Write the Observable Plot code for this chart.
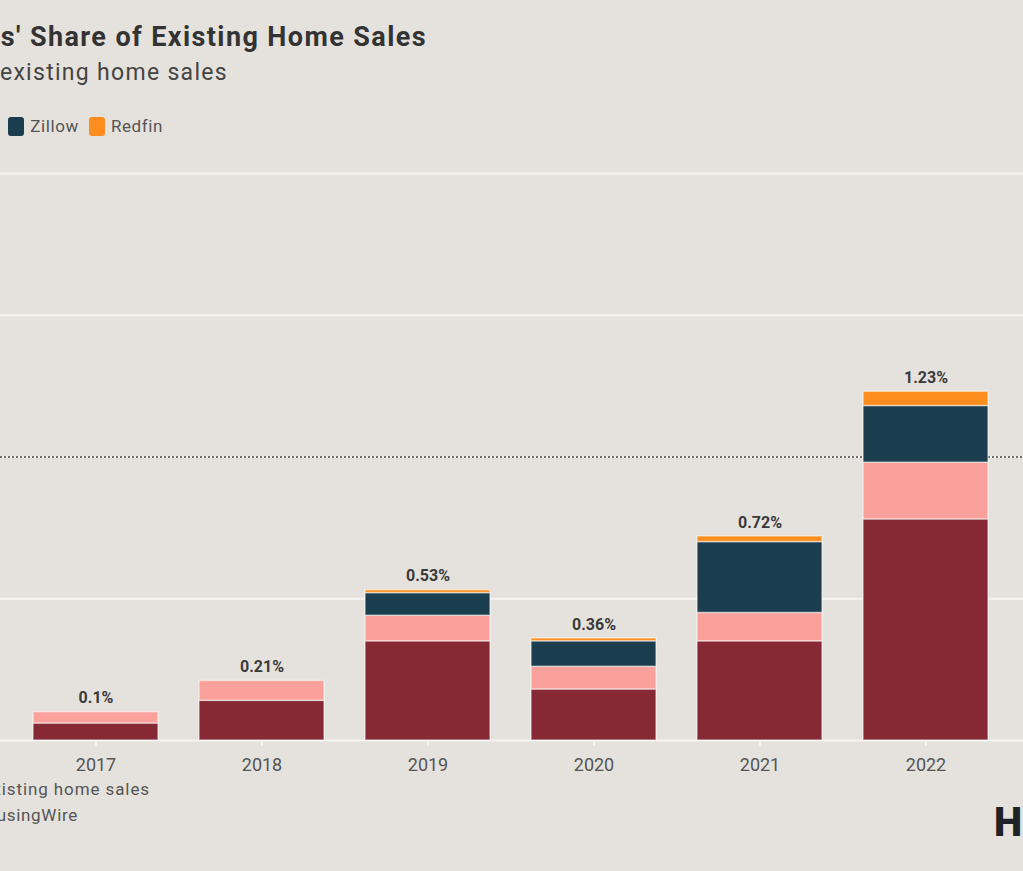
<!DOCTYPE html>
<html><head><meta charset="utf-8">
<script src="https://cdn.jsdelivr.net/npm/d3@7"></script>
<script src="https://cdn.jsdelivr.net/npm/@observablehq/plot@0.6"></script>
<style>
html,body{margin:0;padding:0;width:1023px;height:871px;overflow:hidden;background:#e5e2dd;font-family:Roboto,"Noto Sans",sans-serif;}
.abs{position:absolute;white-space:nowrap;}
.legend{display:flex;align-items:center;font-size:17px;color:#555;letter-spacing:0.6px;}
.legend .item{display:flex;align-items:center;margin-left:10px;}
.legend .sw{width:16px;height:19px;border-radius:3px;margin-right:6px;}
</style></head><body>
<div id="title" class="abs" style="right:596px;top:20px;font-size:27px;font-weight:700;color:#333;line-height:34px;letter-spacing:1.4px">iBuyers' Share of Existing Home Sales</div>
<div id="subtitle" class="abs" style="right:795px;top:58px;font-size:23px;color:#444;line-height:30px;letter-spacing:1.3px">Share of existing home sales</div>
<div id="legend" class="abs legend" style="right:860px;top:116px;"></div>
<div id="chart" class="abs" style="left:0;top:150px;"></div>
<div class="abs" style="right:873px;top:778px;font-size:17px;color:#555;line-height:22px;letter-spacing:0.9px">Source: iBuyer filings, NAR existing home sales</div>
<div class="abs" style="right:945px;top:804px;font-size:17px;color:#555;line-height:22px;letter-spacing:0.7px">Chart: HousingWire</div>
<div class="abs" style="left:994px;top:798px;font-size:40px;font-weight:900;color:#1d2327;line-height:50px;letter-spacing:1px">HW</div>
<script>
const years = ["2017", "2018", "2019", "2020", "2021", "2022"];
const companies = ["Opendoor", "Offerpad", "Zillow", "Redfin"];
const colors = ["#862935", "#f9a19a", "#1b3e4f", "#fc8d1e"];
const opendoor = [0.06, 0.14, 0.35, 0.18, 0.35, 0.78];
const offerpad = [0.04, 0.07, 0.09, 0.08, 0.10, 0.20];
const zillow   = [0.00, 0.00, 0.08, 0.09, 0.25, 0.20];
const redfin   = [0.00, 0.00, 0.01, 0.01, 0.02, 0.05];
const totals   = [0.1, 0.21, 0.53, 0.36, 0.72, 1.23];
const yTicks   = [0, 0.5, 1, 1.5, 2];
const avgLine  = [1];

const series = [opendoor, offerpad, zillow, redfin];
const rows = [];
years.forEach((y, i) => companies.forEach((c, j) => rows.push({year: y, company: c, value: series[j][i]})));
const totalRows = years.map((y, i) => ({year: y, total: totals[i]}));

// legend
const lg = document.getElementById("legend");
companies.forEach((c, j) => {
  const it = document.createElement("div");
  it.className = "item";
  it.innerHTML = `<span class="sw" style="background:${colors[j]}"></span><span>${c}</span>`;
  lg.appendChild(it);
});

const chart = Plot.plot({
  width: 1023,
  height: 640,
  marginLeft: 0,
  marginRight: 0,
  marginTop: 23,
  marginBottom: 50,
  style: {background: "transparent", fontFamily: "Roboto, sans-serif", overflow: "visible"},
  x: {domain: years, range: [-8.5, 1029.5], padding: 0.25},
  y: {domain: [0, 2], range: [590, 23], axis: null},
  color: {domain: companies, range: colors},
  marks: [
    Plot.ruleY(yTicks, {stroke: "#f6f4f1", strokeWidth: 2}),
    Plot.ruleY(avgLine, {stroke: "#444", strokeWidth: 1.5, strokeDasharray: "2,2"}),
    Plot.barY(rows, {x: "year", y: "value", fill: "company", order: companies, stroke: "#ffffff", strokeOpacity: 0.5, strokeWidth: 1.5}),
    Plot.text(totalRows, {x: "year", y: "total", text: d => d.total + "%", dy: -14, fontWeight: 700, fontSize: 16, fill: "#3a3a3a"}),
    Plot.axisX({tickSize: 6, tickPadding: 12, stroke: "#f6f4f1", strokeWidth: 2, fill: "#555", fontSize: 18, label: null})
  ]
});
document.getElementById("chart").appendChild(chart);
</script>
</body></html>
